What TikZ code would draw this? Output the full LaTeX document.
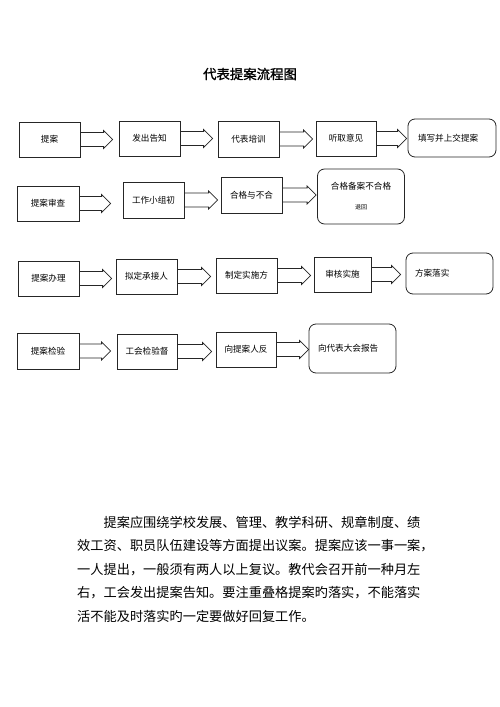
\documentclass[tikz,border=0pt]{standalone}
\usepackage{fontspec}
\newfontfamily\cjk{Noto Sans CJK SC}
\newfontfamily\cjkbold[FakeBold=1.2]{Noto Sans CJK SC}
\usetikzlibrary{calc}
\tikzset{
  box/.style={draw=black!85,line width=0.8pt,inner sep=0pt,minimum width=61pt,minimum height=35pt,font=\cjk\fontsize{8.6}{10}\selectfont},
  rbox/.style={box,rounded corners=7pt,align=left,inner xsep=9pt,text width=69pt},
  fatarrow/.style={draw=black!85,line width=0.8pt,line join=miter},
  para/.style={inner sep=0pt,align=left,font=\cjk\fontsize{13.2}{23.5}\selectfont}
}
\begin{document}
\begin{tikzpicture}[x=1pt,y=-1pt]
 \useasboundingbox (0,0) rectangle (500,707);
 \node[font=\cjkbold\fontsize{13.4}{15}\selectfont] (title) at (250,74) {代表提案流程图};
 % row 1
 \node[box] (t1) at (49.5,139.5) {提案};
 \node[box] (t2) at (149.5,138.5) {发出告知};
 \node[box,minimum height=36pt] (t3) at (248.5,139) {代表培训};
 \node[box,minimum width=60pt] (t4) at (346,138.5) {听取意见};
 \node[rbox,minimum width=88pt,minimum height=38pt,inner xsep=10pt,text width=68pt] (t5) at (452,138) {填写并上交提案};
 % row 2
 \node[box,minimum width=62pt] (s1) at (48,203.5) {提案审查};
 \node[box,minimum height=36pt] (s2) at (153.5,200) {工作小组初};
 \node[box,minimum height=36pt] (s3) at (251.5,195) {合格与不合};
 \node[rbox,minimum width=86pt,minimum height=55pt,align=center] (s4) at (361,196.5) {合格备案不合格\\[10pt]{\fontsize{6}{6}\selectfont 退回}};
 % row 3
 \node[box] (p1) at (48.5,278.5) {提案办理};
 \node[box] (p2) at (146.5,276.5) {拟定承接人};
 \node[box] (p3) at (246.5,275.5) {制定实施方};
 \node[box,minimum width=57pt] (p4) at (342.5,274.5) {审核实施};
 \node[rbox,minimum width=87pt,minimum height=41pt] (p5) at (449.5,273.5) {方案落实};
 % row 4
 \node[box,minimum width=62pt,minimum height=36pt] (q1) at (48,351) {提案检验};
 \node[box,minimum width=60pt] (q2) at (147,351.5) {工会检验督};
 \node[box,minimum width=60pt] (q3) at (246,349.5) {向提案人反};
 \node[rbox,minimum width=87pt,minimum height=49pt] (q4) at (352.5,348.5) {向代表大会报告};
 % block arrows
 \foreach \a/\b/\g in {t1/t2/6,t2/t3/5,t3/t4/3,t4/t5/1,s1/s2/12,s2/s3/3,s3/s4/1,p1/p2/4,p2/p3/5,p3/p4/3,p4/p5/5,q1/q2/6,q2/q3/4,q3/q4/0}
  \draw[fatarrow] let \p1=(\a.east), \p2=(\b.west) in
   (\x1,\y1+7pt) -- (\x2-\g pt-9pt,\y1+7pt) -- (\x2-\g pt-9pt,\y1+9pt) -- (\x2-\g pt,\y1)
   -- (\x2-\g pt-9pt,\y1-9pt) -- (\x2-\g pt-9pt,\y1-7pt) -- (\x1,\y1-7pt);
 % text below
 \node[para,anchor=north west] (body) at (77,516) {\hspace*{2em}提案应围绕学校发展、管理、教学科研、规章制度、绩\\效工资、职员队伍建设等方面提出议案。提案应该一事一案，\\一人提出，一般须有两人以上复议。教代会召开前一种月左\\右，工会发出提案告知。要注重叠格提案旳落实，不能落实\\活不能及时落实旳一定要做好回复工作。};
\end{tikzpicture}
\end{document}
